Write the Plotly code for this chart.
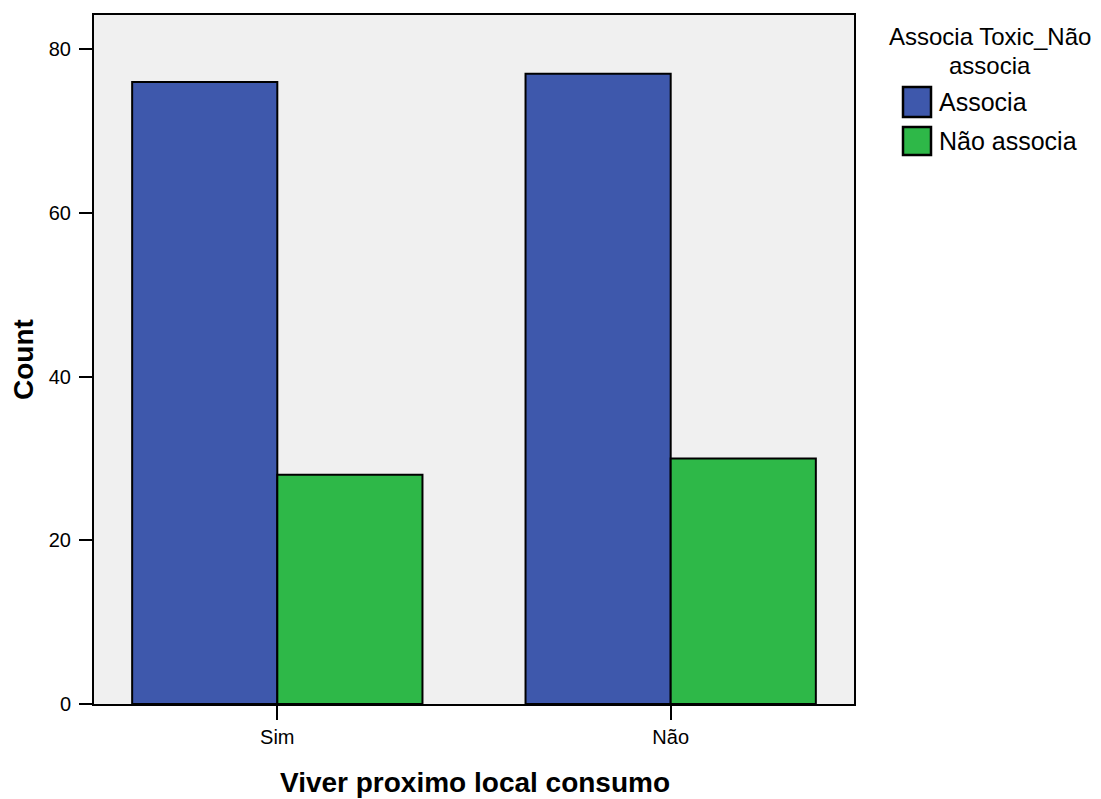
import plotly.graph_objects as go

categories = ["Sim", "Não"]
series_names = ["Associa", "Não associa"]
associa = [76, 77]
nao_associa = [28, 30]
colors = ["#3E58AC", "#2EB848"]
y_ticks = [0, 20, 40, 60, 80]
legend_title = ["Associa Toxic_Não", "associa"]

W, H = 1101, 799
L, R, T, B = 94, 854, 15, 704
FONT = "Arial, Liberation Sans, sans-serif"

def px(x):
    return (x - L) / (R - L)

def py(y):
    return (B - y) / (B - T)

fig = go.Figure()
for name, vals, col in zip(series_names, [associa, nao_associa], colors):
    fig.add_trace(go.Bar(
        x=categories, y=vals, name=name,
        marker=dict(color=col, line=dict(color="black", width=2)),
        showlegend=False,
    ))

fig.update_layout(
    width=W, height=H,
    margin=dict(l=L, r=W - R, t=T, b=H - B, pad=0),
    paper_bgcolor="white", plot_bgcolor="#F0F0F0",
    barmode="group", bargap=0.262, bargroupgap=0,
    font=dict(family=FONT, color="black"),
)
fig.update_xaxes(
    type="category", range=[-0.466, 1.466],
    showline=True, linecolor="black", linewidth=2, mirror=True,
    ticks="outside", ticklen=14, tickwidth=2, tickcolor="black",
    tickfont=dict(size=20, family=FONT), showgrid=False,
)
fig.update_yaxes(
    range=[0, 84.19], tickvals=y_ticks,
    showline=True, linecolor="black", linewidth=2, mirror=True,
    ticks="outside", ticklen=13, tickwidth=2, tickcolor="black",
    tickfont=dict(size=20, family=FONT), showgrid=False, zeroline=False,
    ticklabelstandoff=4,
)

ann = []
ann.append(dict(text="<b>Viver proximo local consumo</b>", x=px(475), y=py(782),
                xref="paper", yref="paper", showarrow=False,
                xanchor="center", yanchor="middle",
                font=dict(size=28, family=FONT)))
ann.append(dict(text="<b>Count</b>", x=px(23), y=py(360), textangle=-90,
                xref="paper", yref="paper", showarrow=False,
                xanchor="center", yanchor="middle",
                font=dict(size=28, family=FONT)))
for line, yc in zip(legend_title, [36, 65]):
    ann.append(dict(text=line, x=px(990), y=py(yc),
                    xref="paper", yref="paper", showarrow=False,
                    xanchor="center", yanchor="middle",
                    font=dict(size=24, family=FONT)))
shapes = []
for i, (name, col) in enumerate(zip(series_names, colors)):
    y0, y1 = [(87, 117), (127, 155)][i]
    shapes.append(dict(type="rect", xref="paper", yref="paper",
                       x0=px(903), x1=px(931), y0=py(y1), y1=py(y0),
                       fillcolor=col, line=dict(color="black", width=2.5)))
    ann.append(dict(text=name, x=px(937), y=py((y0 + y1) / 2),
                    xanchor="left", yanchor="middle",
                    xref="paper", yref="paper", showarrow=False,
                    font=dict(size=25, family=FONT)))
fig.update_layout(annotations=ann, shapes=shapes)

fig.write_html("out.html", config={"displayModeBar": False},
               post_script="document.body.style.margin='0';")
